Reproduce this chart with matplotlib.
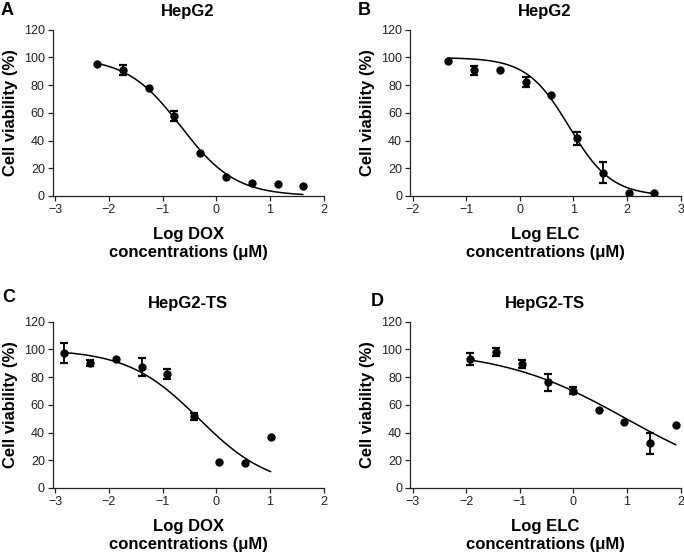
import matplotlib
matplotlib.use("Agg")
import matplotlib.pyplot as plt
import numpy as np

plt.rcParams['font.family'] = ['Liberation Sans', 'DejaVu Sans']

# panel A: HepG2, DOX
a_x = [-2.22, -1.73, -1.25, -0.78, -0.30, 0.18, 0.66, 1.14, 1.61]
a_y = [95.3, 91.2, 77.8, 57.8, 31.0, 13.9, 9.1, 8.6, 7.2]
a_err = [0, 3.6, 0, 3.6, 0, 0, 0, 0, 0]
a_fit = [100, 0, -0.657, 0.86]  # top, bottom, logIC50, hill

# panel B: HepG2, ELC
b_x = [-1.34, -0.86, -0.375, 0.106, 0.58, 1.06, 1.55, 2.03, 2.51]
b_y = [97.0, 90.7, 91.0, 82.1, 72.5, 41.5, 16.8, 2.4, 1.9]
b_err = [0, 3.4, 0, 3.8, 0, 4.7, 7.7, 0, 0]
b_fit = [99.8, 0, 0.92, 1.1]

# panel C: HepG2-TS, DOX
c_x = [-2.83, -2.35, -1.86, -1.38, -0.91, -0.42, 0.056, 0.53, 1.01]
c_y = [97.4, 90.2, 93.1, 87.1, 82.1, 51.6, 18.7, 18.0, 36.7]
c_err = [7.2, 1.9, 0, 6.4, 3.5, 2.6, 0, 0, 0]
c_fit = [100, 0, -0.326, 0.652]

# panel D: HepG2-TS, ELC
d_x = [-1.93, -1.45, -0.97, -0.48, 0.0, 0.47, 0.95, 1.43, 1.91]
d_y = [92.9, 98.2, 89.3, 76.1, 70.3, 55.9, 47.8, 32.2, 45.1]
d_err = [4.4, 2.9, 3.1, 5.8, 2.5, 0, 0, 7.6, 0]
d_fit = [100, 0, 0.984, 0.37]

W, H = 684, 553
fig = plt.figure(figsize=(W / 100, H / 100), dpi=100)


def panel(rect_px, xlim, xticks, x, y, err, fit, title, drug, letter, letter_xy):
    l, r, b, t = rect_px
    ax = fig.add_axes([l / W, 1 - b / H, (r - l) / W, (b - t) / H])
    x = np.array(x); y = np.array(y); err = np.array(err)
    top, bot, ic50, hill = fit
    xs = np.linspace(x.min(), x.max(), 200)
    ax.plot(xs, bot + (top - bot) / (1 + 10 ** ((xs - ic50) * hill)),
            color='black', lw=1.1)
    ax.plot(x, y, 'o', color='black', ms=5)
    m = err > 0
    ax.errorbar(x[m], y[m], yerr=err[m], fmt='none', ecolor='black',
                elinewidth=1.3, capsize=3, capthick=1.6)
    ax.set_xlim(*xlim)
    ax.set_ylim(0, 120)
    ax.set_xticks(xticks)
    ax.set_yticks(range(0, 121, 20))
    for s in ['top', 'right']:
        ax.spines[s].set_visible(False)
    for s in ['left', 'bottom']:
        ax.spines[s].set_linewidth(0.9)
        ax.spines[s].set_color('#222222')
    ax.tick_params(direction='out', length=3.5, width=0.9, labelsize=9,
                   colors='#222222', pad=2)
    ax.set_title(title, fontsize=12, fontweight='bold', pad=10)
    ax.set_ylabel('Cell viability (%)', fontsize=12, fontweight='bold')
    ax.yaxis.set_label_coords(-0.129, 0.5)
    ax.set_xlabel('Log ' + drug + '\nconcentrations (\u03bcM)', fontsize=12,
                  fontweight='bold', linespacing=1.3, labelpad=8)
    fig.text(letter_xy[0] / W, 1 - letter_xy[1] / H, letter, fontsize=13,
             fontweight='bold', ha='left', va='top')
    return ax


panel((52.5, 323.7, 196, 29.6), (-3.05, 2), range(-3, 3), a_x, a_y, a_err,
      a_fit, 'HepG2', 'DOX', 'A', (1, 2))
panel((409.7, 680.5, 196, 29.6), (-2.06, 3), range(-2, 4), b_x, b_y, b_err,
      b_fit, 'HepG2', 'ELC', 'B', (358, 2))
panel((52.5, 323.7, 488, 321.6), (-3.05, 2), range(-3, 3), c_x, c_y, c_err,
      c_fit, 'HepG2-TS', 'DOX', 'C', (2, 289))
panel((409.7, 680.5, 488, 321.6), (-3.06, 2), range(-3, 3), d_x, d_y, d_err,
      d_fit, 'HepG2-TS', 'ELC', 'D', (371, 293))

fig.savefig('out.png', dpi=100)
